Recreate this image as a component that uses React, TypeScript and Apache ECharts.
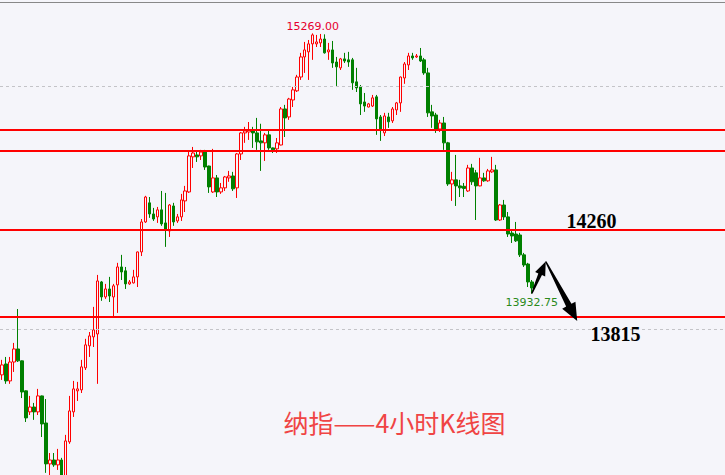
import React, { useEffect, useRef } from "react";
import * as echarts from "echarts";

// ---- data ----
const slotCount = 182; // candle slots across the visible width (empty ones on the right)
const categories = Array.from({ length: slotCount }, (_, i) => String(i));

const opens = [
  13516, 13572, 13485, 13582, 13649, 13588, 13434, 13326, 13351, 13326,
  13408, 13269, 13059, 13079, 13054, 13079, 12987, 13172, 13326, 13434,
  13439, 13552, 13665, 13711, 13726, 13993, 13916, 13957, 13916, 13978,
  14070, 14050, 13983, 13988, 14019, 14147, 14301, 14399, 14342, 14327,
  14363, 14296, 14255, 14383, 14306, 14327, 14409, 14455, 14635, 14645,
  14640, 14660, 14588, 14455, 14527, 14455, 14476, 14527, 14537, 14476,
  14650, 14758, 14763, 14773, 14758, 14717, 14707, 14748, 14681, 14676,
  14696, 14881, 14840, 14927, 14974, 15045, 15148, 15174, 15215, 15215,
  15220, 15240, 15174, 15184, 15122, 15092, 15138, 15133, 15133, 15020,
  14994, 14917, 14891, 14896, 14943, 14840, 14758, 14840, 14820, 14876,
  14912, 15040, 15107, 15153, 15148, 15153, 15133, 15066, 14866, 14850,
  14778, 14809, 14707, 14496, 14517, 14486, 14484, 14460, 14578, 14553,
  14486, 14527, 14512, 14558, 14568, 14311, 14388, 14327, 14244, 14239,
  14234, 14132, 14085, 13993,
];
const closes = [
  13567, 13485, 13582, 13649, 13588, 13428, 13295, 13351, 13326, 13408,
  13264, 13059, 13079, 13054, 13079, 12987, 13177, 13331, 13444, 13444,
  13557, 13670, 13716, 13747, 13998, 13916, 13957, 13921, 13973, 14070,
  14044, 13983, 13993, 14019, 14147, 14301, 14429, 14342, 14316, 14363,
  14291, 14260, 14388, 14301, 14327, 14414, 14460, 14640, 14655, 14635,
  14660, 14583, 14481, 14527, 14455, 14476, 14532, 14537, 14471, 14650,
  14758, 14768, 14773, 14758, 14712, 14707, 14748, 14681, 14671, 14707,
  14881, 14835, 14932, 14979, 15045, 15148, 15184, 15215, 15261, 15225,
  15240, 15169, 15184, 15117, 15097, 15138, 15127, 15122, 15015, 14989,
  14907, 14896, 14907, 14938, 14830, 14773, 14845, 14815, 14881, 14912,
  15045, 15112, 15153, 15143, 15153, 15127, 15066, 14861, 14845, 14773,
  14809, 14707, 14496, 14517, 14486, 14476, 14473, 14578, 14507, 14486,
  14527, 14512, 14563, 14568, 14311, 14388, 14327, 14239, 14229, 14204,
  14132, 14080, 13993, 13962,
];
const lows = [
  13490, 13470, 13470, 13531, 13582, 13397, 13274, 13310, 13285, 13310,
  13197, 13013, 13002, 13044, 13028, 12951, 12960, 13162, 13300, 13382,
  13423, 13541, 13608, 13659, 13470, 13896, 13906, 13890, 13813, 13834,
  14003, 13957, 13978, 13985, 13967, 14126, 14296, 14322, 14306, 14296,
  14281, 14173, 14224, 14281, 14296, 14306, 14352, 14450, 14578, 14609,
  14619, 14568, 14450, 14450, 14429, 14445, 14460, 14507, 14460, 14424,
  14619, 14707, 14722, 14681, 14671, 14563, 14614, 14671, 14655, 14655,
  14694, 14737, 14825, 14891, 14968, 15030, 15066, 15030, 15133, 15199,
  15199, 15165, 15133, 15092, 14999, 15081, 15117, 15097, 14979, 14968,
  14850, 14866, 14889, 14891, 14748, 14717, 14742, 14784, 14809, 14850,
  14866, 15010, 15081, 15133, 15143, 15122, 15056, 14840, 14784, 14758,
  14763, 14671, 14486, 14409, 14383, 14429, 14429, 14455, 14491, 14311,
  14484, 14507, 14507, 14553, 14306, 14306, 14311, 14224, 14193, 14198,
  14121, 14070, 13967, 13932.75,
];
const highs = [
  13593, 13608, 13608, 13680, 13854, 13590, 13436, 13408, 13372, 13444,
  13410, 13392, 13115, 13115, 13136, 13090, 13208, 13408, 13485, 13480,
  13593, 13701, 13736, 13865, 14029, 13998, 13983, 14019, 13983, 14091,
  14132, 14070, 14003, 14055, 14149, 14316, 14435, 14429, 14373, 14378,
  14460, 14450, 14393, 14399, 14342, 14445, 14486, 14660, 14686, 14660,
  14671, 14671, 14590, 14676, 14542, 14501, 14537, 14563, 14558, 14655,
  14763, 14789, 14814, 14789, 14835, 14805, 14758, 14768, 14683, 14732,
  14891, 14902, 14938, 14994, 15056, 15169, 15225, 15235, 15269, 15261,
  15266, 15264, 15220, 15230, 15148, 15143, 15169, 15174, 15143, 15092,
  15004, 14963, 14912, 14953, 14953, 14850, 14861, 14861, 14891, 14917,
  15047, 15122, 15169, 15169, 15163, 15194, 15143, 15092, 14902, 14861,
  14825, 14840, 14712, 14558, 14645, 14517, 14501, 14594, 14599, 14568,
  14630, 14553, 14573, 14635, 14594, 14393, 14414, 14352, 14260, 14301,
  14245, 14142, 14091, 14003,
];

const levelLines = [14773, 14667, 14260, 13815];
const gridPrices = [15000, 13750];
const levelTexts = ["14260", "13815"];
const levelTextAnchors = [
  [148, 14260],
  [154, 13815],
];
// forecast path: [slot index, price]
const forecastPath = [
  [133.0, 13934],
  [136.5, 14098],
  [144.4, 13792],
];
const titleText = "纳指——4小时K线图";

const candleData = opens.map((o, i) => [o, closes[i], lows[i], highs[i]]);
const highIdx = highs.indexOf(Math.max(...highs));
let swingLowIdx = highIdx;
for (let i = highIdx; i < lows.length; i++) if (lows[i] < lows[swingLowIdx]) swingLowIdx = i;

const BG = "#f5f5fa";

function arrowPoints(
  tail: number[],
  tip: number[],
  tailW: number,
  shaftW: number,
  headLen: number,
  headHalf: number
) {
  const dx = tip[0] - tail[0];
  const dy = tip[1] - tail[1];
  const len = Math.hypot(dx, dy);
  const ux = dx / len;
  const uy = dy / len;
  const nx = -uy;
  const ny = ux;
  const bx = tip[0] - ux * headLen;
  const by = tip[1] - uy * headLen;
  return [
    [tail[0] + (nx * tailW) / 2, tail[1] + (ny * tailW) / 2],
    [bx + (nx * shaftW) / 2, by + (ny * shaftW) / 2],
    [bx + nx * headHalf, by + ny * headHalf],
    [tip[0], tip[1]],
    [bx - nx * headHalf, by - ny * headHalf],
    [bx - (nx * shaftW) / 2, by - (ny * shaftW) / 2],
    [tail[0] - (nx * tailW) / 2, tail[1] - (ny * tailW) / 2],
  ];
}

export default function App() {
  const ref = useRef<HTMLDivElement>(null);

  useEffect(() => {
    document.body.style.margin = "0";
    const chart = echarts.init(ref.current!, null, { renderer: "svg" });
    chart.setOption({
      animation: false,
      backgroundColor: BG,
      grid: { left: -3, right: 0, top: 2, bottom: 0, containLabel: false },
      xAxis: {
        type: "category",
        data: categories,
        position: "top",
        boundaryGap: true,
        axisLine: { show: true, lineStyle: { color: "#888888", width: 1 } },
        axisTick: { show: false },
        axisLabel: { show: false },
        splitLine: { show: false },
      },
      yAxis: {
        type: "value",
        min: 13002,
        max: 15430,
        show: false,
        splitLine: { show: false },
      },
      series: [
        {
          type: "candlestick",
          data: candleData,
          barWidth: 3,
          clip: true,
          itemStyle: {
            color: BG,
            color0: "#008000",
            borderColor: "#ff0000",
            borderColor0: "#008000",
            borderWidth: 1,
          },
          markLine: {
            silent: true,
            symbol: ["none", "none"],
            label: { show: false },
            data: [
              ...gridPrices.map((v) => ({
                yAxis: v,
                lineStyle: { color: "#c4c4c8", width: 1, type: [3, 3] },
              })),
              ...levelLines.map((v) => ({
                yAxis: v,
                lineStyle: { color: "#ff0000", width: 2, type: "solid" },
              })),
            ],
          },
          markPoint: {
            symbol: "circle",
            symbolSize: 1,
            itemStyle: { color: "rgba(0,0,0,0)" },
            label: {
              show: true,
              fontFamily: "DejaVu Sans",
              fontSize: 11,
              formatter: (p: any) => Number(p.value).toFixed(2),
            },
            data: [
              {
                coord: [String(highIdx), highs[highIdx]],
                value: highs[highIdx],
                label: { position: "top", distance: 1, color: "#e6002e" },
              },
              {
                coord: [String(swingLowIdx), lows[swingLowIdx]],
                value: lows[swingLowIdx],
                label: { position: "bottom", distance: 3, color: "#2a8a1a" },
              },
            ],
          },
        },
      ],
    });

    const x0 = chart.convertToPixel({ xAxisIndex: 0 }, "0") as number;
    const x1 = chart.convertToPixel({ xAxisIndex: 0 }, "1") as number;
    const toPx = (k: number, v: number) => [
      x0 + (x1 - x0) * k,
      chart.convertToPixel({ yAxisIndex: 0 }, v) as number,
    ];

    const p0 = toPx(forecastPath[0][0], forecastPath[0][1]);
    const p1 = toPx(forecastPath[1][0], forecastPath[1][1]);
    const p2 = toPx(forecastPath[2][0], forecastPath[2][1]);

    const textOffsets = [-8.5, 17.5];
    const graphics: any[] = [
      {
        type: "polygon",
        shape: { points: arrowPoints(p0, p1, 1.5, 4, 14, 5.5) },
        style: { fill: "#000000" },
        z: 100,
      },
      {
        type: "polygon",
        shape: { points: arrowPoints(p1, p2, 1.5, 6, 18, 7.5) },
        style: { fill: "#000000" },
        z: 100,
      },
      ...levelTexts.map((t, i) => {
        const p = toPx(levelTextAnchors[i][0], levelTextAnchors[i][1]);
        return {
          type: "text",
          x: p[0],
          y: p[1] + textOffsets[i],
          z: 100,
          style: {
            text: t,
            fontFamily: "Liberation Serif",
            fontSize: 20,
            fontWeight: "bold",
            fill: "#000000",
            align: "center",
            verticalAlign: "middle",
            textAlign: "center",
            textVerticalAlign: "middle",
          },
        };
      }),
      {
        type: "text",
        x: 394.5,
        y: 421.5,
        z: 100,
        style: {
          text: titleText,
          fontFamily: "Noto Sans CJK SC",
          fontSize: 25,
          fill: "#f04444",
          align: "center",
          verticalAlign: "middle",
          textAlign: "center",
          textVerticalAlign: "middle",
        },
      },
    ];
    chart.setOption({ graphic: graphics });

    return () => chart.dispose();
  }, []);

  return <div ref={ref} style={{ width: 725, height: 475 }} />;
}
